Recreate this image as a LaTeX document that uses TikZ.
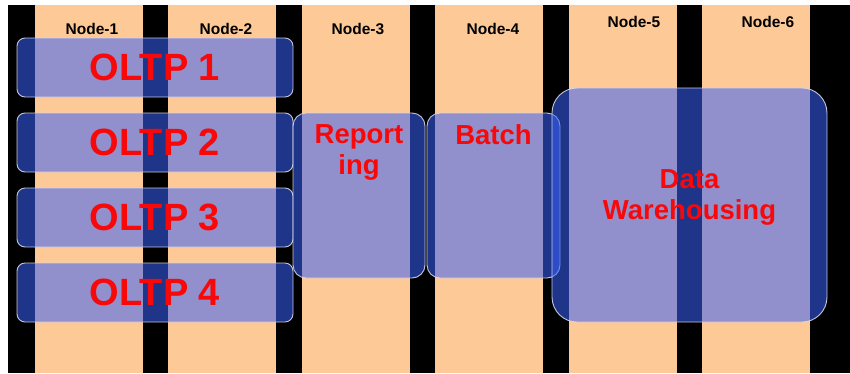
\documentclass[tikz,border=0pt]{standalone}
\usepackage{fontspec}
\setmainfont{Liberation Sans}
\usetikzlibrary{positioning}
\definecolor{hostpeach}{HTML}{FDC997}
\definecolor{poolblue}{HTML}{3A62FA}
\definecolor{tagred}{HTML}{F80808}
\definecolor{rimgrey}{HTML}{D8D8E8}
\tikzset{
  hosttag/.style={font=\bfseries\fontsize{15.5}{17}\selectfont,text=black,inner sep=0pt},
  pool/.style={draw=rimgrey,line width=0.9pt,fill=poolblue,fill opacity=0.55,
    text opacity=1,draw opacity=0.9,inner sep=0pt,text=tagred},
  bigtag/.style={font=\bfseries\fontsize{38}{40}\selectfont},
  midtag/.style={text=tagred,align=center,inner sep=0pt,
    font=\bfseries\fontsize{27.5}{31}\selectfont},
}

\begin{document}
\begin{tikzpicture}[x=1pt,y=-1pt]
  \useasboundingbox (0,0) rectangle (850,373);
  \fill[white] (0,0) rectangle (850,373);
  \fill[black] (8,5) rectangle (850,373);
  % six hosts: peach bands on the black rack, name on top
  \foreach \i/\lx/\ly in {1/92/29,2/226/29,3/358/29,4/493/29,5/634/22,6/768/22}{
    \fill[hostpeach] ({35+(\i-1)*133.4},5) rectangle ++(108,368);
    \node[hosttag] (host\i) at (\lx,\ly) {Node-\i};
  }
  % OLTP pools span hosts 1 and 2
  \foreach \k in {1,...,4}{
    \node[pool,bigtag,rounded corners=8pt,minimum width=276pt,minimum height=59pt]
      (oltp\k) at (155,{67.5+(\k-1)*75}) {OLTP \k};
  }
  % reporting and batch each get one host
  \node[pool,rounded corners=13pt,minimum width=132pt,minimum height=165pt]
    (report) at (359,195.5) {};
  \node[pool,rounded corners=13pt,minimum width=133pt,minimum height=165pt]
    (batch) at (493.5,195.5) {};
  \node[midtag,below=12pt of report.north] (reporttag) {Report\\ing};
  \node[midtag,below=12pt of batch.north] (batchtag) {Batch};
  % warehouse over hosts 5 and 6
  \node[pool,rounded corners=25pt,minimum width=275pt,minimum height=234pt]
    (dw) at (689.5,205) {};
  \node[midtag] (dwtag) at ([yshift=8pt]dw.center) {Data\\Warehousing};
\end{tikzpicture}
\end{document}
